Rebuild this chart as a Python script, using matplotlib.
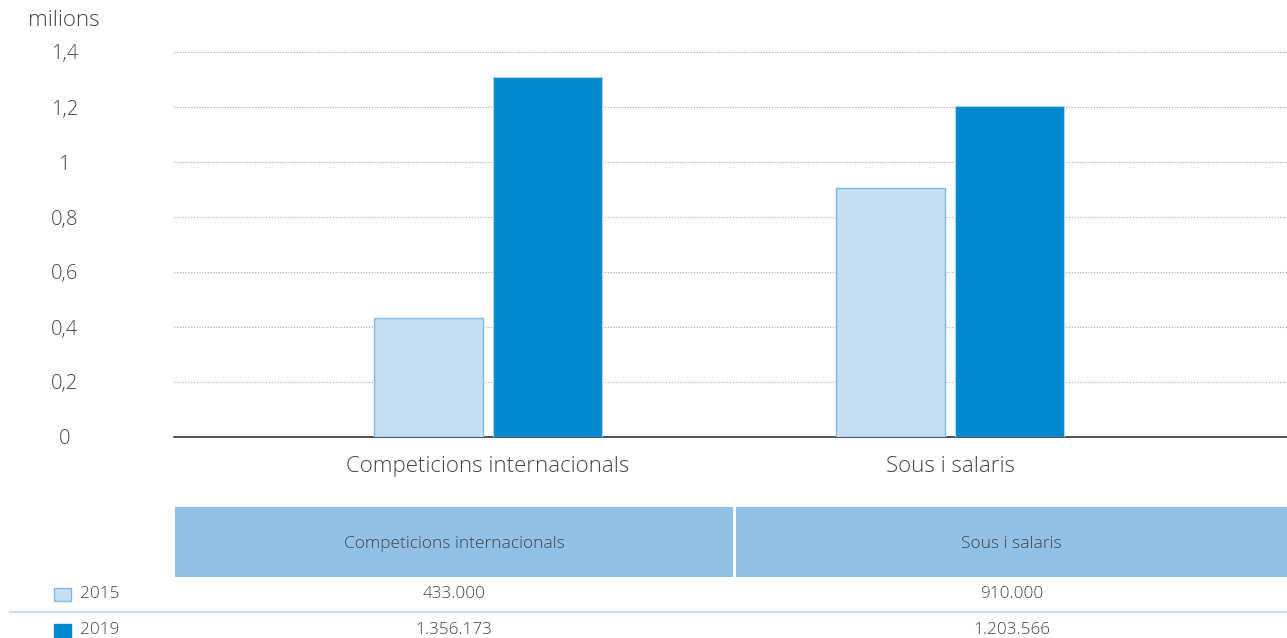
import matplotlib.pyplot as plt
from matplotlib.patches import Rectangle
import numpy as np

plt.rcParams['font.family'] = ['Open Sans', 'DejaVu Sans']
plt.rcParams['font.weight'] = 'light'

# data
categories = ['Competicions internacionals', 'Sous i salaris']
years = ['2015', '2019']
# bar heights (milions) as drawn in the chart
values_2015 = [0.433, 0.905]
values_2019 = [1.31, 1.204]
# table text
table_2015 = ['433.000', '910.000']
table_2019 = ['1.356.173', '1.203.566']
yticks = [0, 0.2, 0.4, 0.6, 0.8, 1, 1.2, 1.4]
ytick_labels = ['0', '0,2', '0,4', '0,6', '0,8', '1', '1,2', '1,4']

c2015, e2015 = '#C6DEF2', '#7DB9E6'
c2019 = '#0088D1'
header_c = '#92C1E7'
txt_c = '#444444'

W, H = 1287, 638
fig = plt.figure(figsize=(W / 100, H / 100), dpi=100)
ax = fig.add_axes([174 / W, (H - 437) / H, (W - 174) / W, (437 - 52) / H])

x = np.arange(len(categories))
bw = 0.236
off = 0.129
ax.bar(x - off, values_2015, bw, color=c2015, edgecolor=e2015, linewidth=1, zorder=3)
ax.bar(x + off, values_2019, bw, color=c2019, edgecolor='#A9D3EF', linewidth=0.8, zorder=3)

ax.set_xlim(-0.68, 1.729)
ax.set_ylim(0, 1.4)
ax.set_yticks(yticks)
ax.set_yticklabels(ytick_labels)
ax.set_xticks(x)
ax.set_xticklabels(categories)
ax.grid(axis='y', linestyle=(0, (1, 1.5)), color='#AAAAAA', linewidth=0.8, zorder=0)
for s in ['top', 'right', 'left']:
    ax.spines[s].set_visible(False)
ax.spines['bottom'].set_color('#333333')
ax.spines['bottom'].set_linewidth(1.2)
ax.tick_params(axis='y', length=0, labelsize=14.5, labelcolor=txt_c, pad=79)
ax.tick_params(axis='x', length=0, pad=14, labelsize=16, labelcolor=txt_c)
for lab in ax.get_yticklabels():
    lab.set_horizontalalignment('center')

fig.text(28 / W, 1 - 20 / H, 'milions', fontsize=16, color=txt_c, va='center', ha='left')

# table under the chart
cols = [(175, 733), (736, 1287)]
for (x0, x1), cat in zip(cols, categories):
    fig.add_artist(Rectangle((x0 / W, 1 - 577 / H), (x1 - x0) / W, 70 / H,
                             transform=fig.transFigure, color=header_c, lw=0))
    fig.text((x0 + x1) / 2 / W, 1 - 544 / H, cat, fontsize=12.5, color=txt_c,
             ha='center', va='center')

rows = [(594, c2015, e2015, years[0], table_2015),
        (630, c2019, c2019, years[1], table_2019)]
for y, fc, ec, yr, vals in rows:
    fig.add_artist(Rectangle((54 / W, 1 - (y + 7) / H), 17 / W, 13 / H,
                             transform=fig.transFigure, facecolor=fc, edgecolor=ec, lw=1))
    fig.text(80 / W, 1 - y / H, yr, fontsize=12.3, color=txt_c, ha='left', va='center')
    for (x0, x1), v in zip(cols, vals):
        fig.text((x0 + x1) / 2 / W, 1 - y / H, v, fontsize=12.3, color=txt_c,
                 ha='center', va='center')

fig.add_artist(plt.Line2D([10 / W, 1], [1 - 612 / H] * 2, transform=fig.transFigure,
                          color='#B9DAF2', lw=1.2))

fig.savefig('out.png', dpi=100)
